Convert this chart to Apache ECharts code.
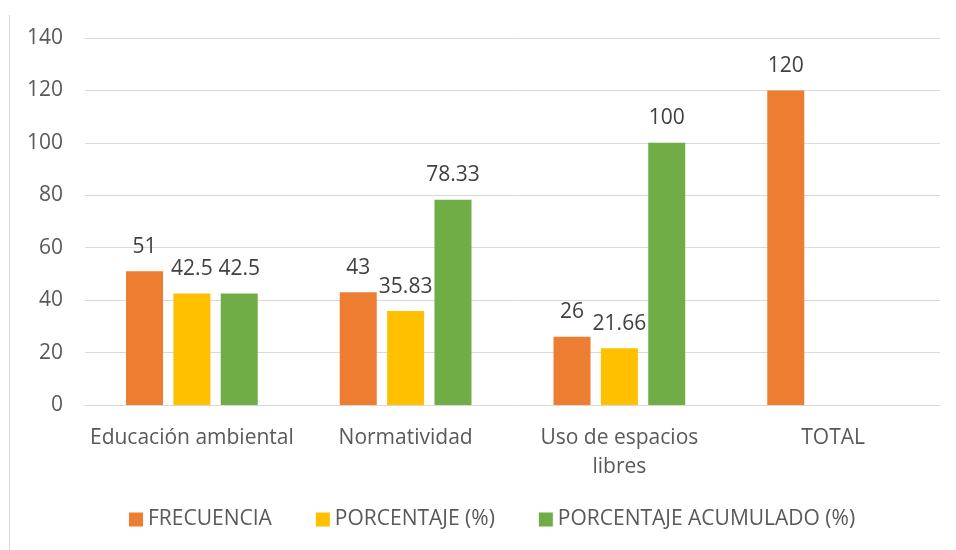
<!DOCTYPE html>
<html><head><meta charset="utf-8">
<script src="https://cdn.jsdelivr.net/npm/echarts@6/dist/echarts.min.js"></script>
<style>html,body{margin:0;padding:0;background:#fff}#c{width:956px;height:550px}</style>
</head><body><div id="c"></div>
<script>
const categories = ['Educación ambiental', 'Normatividad', 'Uso de espacios\nlibres', 'TOTAL'];
const frecuencia = [51, 43, 26, 120];
const porcentaje = [42.5, 35.83, 21.66, null];
const acumulado = [42.5, 78.33, 100, null];
const seriesNames = ['FRECUENCIA', 'PORCENTAJE (%)', 'PORCENTAJE ACUMULADO (%)'];
const yTicks = {min: 0, max: 140, interval: 20};

const FONT = '"Open Sans", "Noto Sans", sans-serif';
const chart = echarts.init(document.getElementById('c'));
const lbl = {show: true, position: 'top', color: '#404040', fontSize: 21, fontFamily: FONT, distance: 14};
function mk(name, data, color) {
  return {name, type: 'bar', data, barWidth: 37, barGap: '28%',
    itemStyle: {color}, label: lbl};
}
chart.setOption({
  animation: false,
  textStyle: {fontFamily: FONT},
  graphic: [{type: 'line', shape: {x1: 9.5, y1: 15, x2: 9.5, y2: 550}, style: {stroke: '#d9d9d9', lineWidth: 1}}],
  grid: {left: 85, right: 16, top: 38, bottom: 145},
  legend: {bottom: 15, left: 124, itemWidth: 14, itemHeight: 14, itemGap: 44, icon: 'rect',
    textStyle: {color: '#595959', fontSize: 21, fontFamily: FONT}, data: seriesNames},
  xAxis: {type: 'category', data: categories,
    axisLine: {lineStyle: {color: '#d9d9d9'}}, axisTick: {show: false},
    axisLabel: {color: '#595959', fontSize: 21, fontFamily: FONT, margin: 19, lineHeight: 29, interval: 0}},
  yAxis: {type: 'value', min: yTicks.min, max: yTicks.max, interval: yTicks.interval,
    axisLine: {show: false}, axisTick: {show: false},
    splitLine: {lineStyle: {color: '#d9d9d9'}},
    axisLabel: {color: '#595959', fontSize: 21, fontFamily: FONT, margin: 22}},
  series: [
    mk(seriesNames[0], frecuencia, '#ED7D31'),
    mk(seriesNames[1], porcentaje, '#FFC000'),
    mk(seriesNames[2], acumulado, '#70AD47')
  ]
});
</script></body></html>
